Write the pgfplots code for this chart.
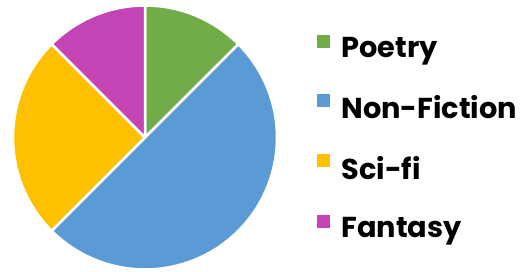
\documentclass[border=0pt]{standalone}
\usepackage{pgfplots}
\pgfplotsset{compat=1.18}
\usepackage{pgfplotstable}
\usepackage{fontspec}
\setmainfont{Poppins}
\definecolor{slice0}{HTML}{70AD47}
\definecolor{slice1}{HTML}{5B9BD5}
\definecolor{slice2}{HTML}{FFC000}
\definecolor{slice3}{HTML}{C444B5}
\pgfplotstableread{
genre value
Poetry 12.5
Non-Fiction 50
Sci-fi 25
Fantasy 12.5
}\pietable
\begin{document}
\begin{tikzpicture}
\useasboundingbox (0,0) rectangle (528pt,271pt);
\begin{axis}[
  at={(145pt,133.5pt)}, anchor=center,
  scale only axis, width=264pt, height=264pt,
  xmin=-1, xmax=1, ymin=-1, ymax=1,
  hide axis, clip=false,
  legend cell align=left,
  legend style={draw=none, fill=none, at={(1.141,0.898)}, anchor=north west,
    font=\fontsize{28.8}{32}\selectfont\bfseries, row sep=32pt,
    /tikz/every odd column/.append style={column sep=9pt}},
  legend image code/.code={\fill[#1,draw=none] (0pt,1pt) rectangle (13pt,14pt);},
]
\def\startang{90}
\pgfplotsforeachungrouped \i in {0,1,2,3}{%
  \pgfplotstablegetelem{\i}{value}\of\pietable
  \pgfmathsetmacro\endang{\startang-3.6*\pgfplotsretval}%
  \pgfplotstablegetelem{\i}{genre}\of\pietable
  \let\genre\pgfplotsretval
  \edef\cmd{\noexpand\addplot[fill=slice\i, draw=white, line width=2.5pt, line join=round,
     domain=\endang:\startang, samples=80, variable=\noexpand\t]
     ({cos(\noexpand\t)},{sin(\noexpand\t)}) -- (axis cs:0,0) -- cycle;
     \noexpand\addlegendentry{\genre}}%
  \cmd
  \let\startang\endang
}
\end{axis}
\end{tikzpicture}
\end{document}
